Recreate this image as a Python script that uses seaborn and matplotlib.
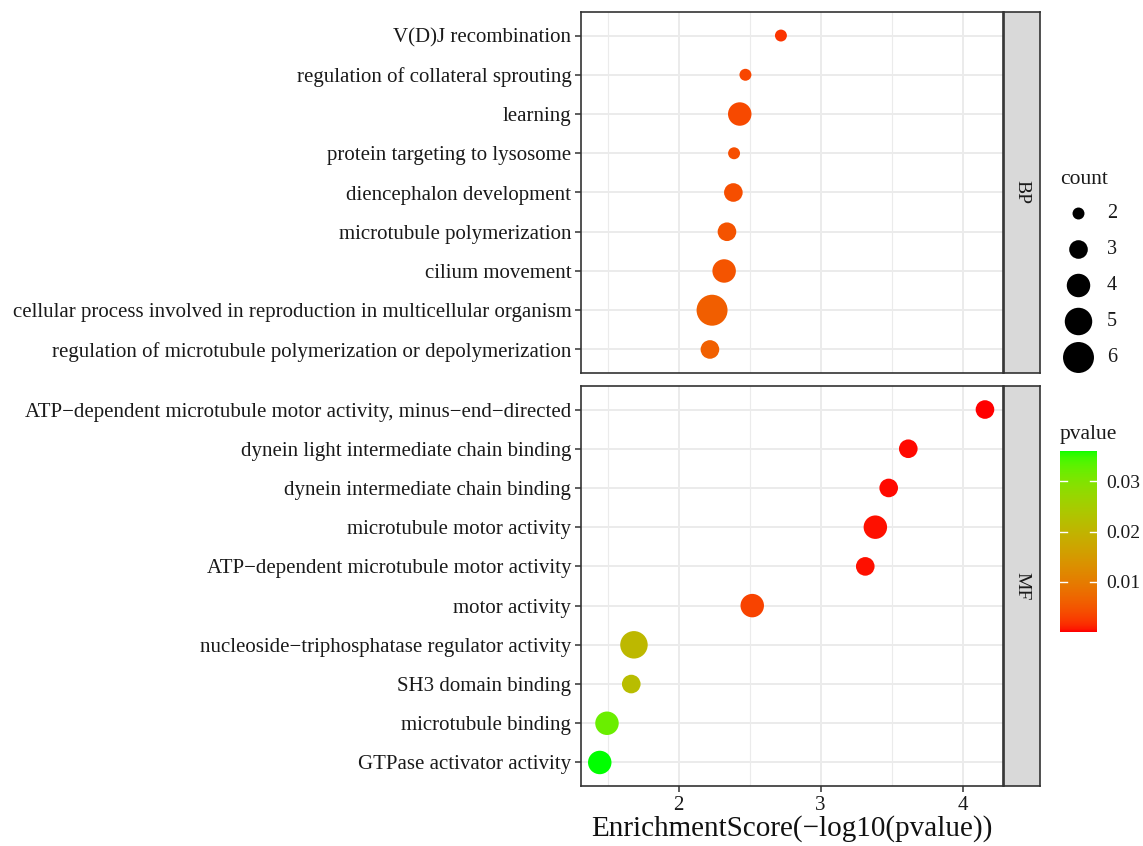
import numpy as np
import pandas as pd
import seaborn as sns
import matplotlib.pyplot as plt
from matplotlib.colors import ListedColormap, Normalize
from matplotlib.lines import Line2D

bp_terms = ['V(D)J recombination', 'regulation of collateral sprouting', 'learning',
            'protein targeting to lysosome', 'diencephalon development',
            'microtubule polymerization', 'cilium movement',
            'cellular process involved in reproduction in multicellular organism',
            'regulation of microtubule polymerization or depolymerization']
bp_score = [2.72, 2.47, 2.43, 2.39, 2.385, 2.34, 2.32, 2.235, 2.22]
bp_count = [2, 2, 4, 2, 3, 3, 4, 6, 3]

mf_terms = ['ATP\u2212dependent microtubule motor activity, minus\u2212end\u2212directed',
            'dynein light intermediate chain binding', 'dynein intermediate chain binding',
            'microtubule motor activity', 'ATP\u2212dependent microtubule motor activity',
            'motor activity', 'nucleoside\u2212triphosphatase regulator activity',
            'SH3 domain binding', 'microtubule binding', 'GTPase activator activity']
mf_score = [4.157, 3.617, 3.479, 3.385, 3.314, 2.518, 1.685, 1.666, 1.495, 1.444]
mf_count = [3, 3, 3, 4, 3, 4, 5, 3, 4, 4]

count_levels = [2, 3, 4, 5, 6]
pval_ticks = [0.01, 0.02, 0.03]


# red -> green gradient interpolated in Lab, like ggplot's scale_colour_gradient
def srgb_to_lab(rgb):
    c = np.asarray(rgb, float)
    lin = np.where(c <= 0.04045, c / 12.92, ((c + 0.055) / 1.055) ** 2.4)
    m = np.array([[0.4124, 0.3576, 0.1805], [0.2126, 0.7152, 0.0722], [0.0193, 0.1192, 0.9505]])
    xyz = m @ lin / np.array([0.95047, 1.0, 1.08883])
    f = np.where(xyz > 0.008856, np.cbrt(xyz), 7.787 * xyz + 16 / 116)
    return np.array([116 * f[1] - 16, 500 * (f[0] - f[1]), 200 * (f[1] - f[2])])


def lab_to_srgb(lab):
    L, a, b = lab
    fy = (L + 16) / 116
    f = np.array([fy + a / 500, fy, fy - b / 200])
    xyz = np.where(f ** 3 > 0.008856, f ** 3, (f - 16 / 116) / 7.787) * np.array([0.95047, 1.0, 1.08883])
    m = np.array([[3.2406, -1.5372, -0.4986], [-0.9689, 1.8758, 0.0415], [0.0557, -0.2040, 1.0570]])
    lin = np.clip(m @ xyz, 0, 1)
    return np.where(lin <= 0.0031308, 12.92 * lin, 1.055 * lin ** (1 / 2.4) - 0.055)


lab_lo = srgb_to_lab([1, 0, 0])
lab_hi = srgb_to_lab([0, 1, 0])
cmap = ListedColormap([np.clip(lab_to_srgb(lab_lo + t * (lab_hi - lab_lo)), 0, 1)
                       for t in np.linspace(0, 1, 256)])

bp = pd.DataFrame({'term': bp_terms, 'score': bp_score, 'count': bp_count})
mf = pd.DataFrame({'term': mf_terms, 'score': mf_score, 'count': mf_count})
for d in (bp, mf):
    d['pvalue'] = 10 ** (-d['score'])
    d['pos'] = np.arange(len(d))

pmin = min(bp['pvalue'].min(), mf['pvalue'].min())
pmax = max(bp['pvalue'].max(), mf['pvalue'].max())
norm = Normalize(pmin, pmax)

plt.rcParams['font.family'] = ['Liberation Serif', 'DejaVu Serif']
W, H = 1143, 846
fig = plt.figure(figsize=(W / 100, H / 100), dpi=100)
txt = '#1a1a1a'


def px_axes(x0, y0, x1, y1):
    return fig.add_axes([x0 / W, 1 - y1 / H, (x1 - x0) / W, (y1 - y0) / H])


panels = [(bp, 'BP', 12, 373), (mf, 'MF', 386, 786)]
size_range = (74, 497)
for d, name, top, bot in panels:
    ax = px_axes(581, top, 1003, bot)
    sns.scatterplot(data=d, x='score', y='pos', hue='pvalue', palette=cmap, hue_norm=norm,
                    size='count', sizes=size_range, size_norm=(2, 6), linewidth=0,
                    legend=False, ax=ax, zorder=3)
    n = len(d)
    ax.set_ylim(n - 1 + 0.6, -0.6)
    ax.set_xlim(1.312, 4.284)
    ax.set_yticks(d['pos'])
    ax.set_yticklabels(d['term'], fontsize=15, color=txt)
    ax.set_xticks([2, 3, 4])
    ax.set_xticks([1.5, 2.5, 3.5], minor=True)
    ax.grid(True, which='major', color='#EBEBEB', lw=1.4, zorder=0)
    ax.grid(True, which='minor', axis='x', color='#EBEBEB', lw=0.8, zorder=0)
    ax.tick_params(axis='both', which='major', length=4, width=1.1, color='#333333', pad=3)
    ax.tick_params(axis='x', which='minor', length=0)
    ax.set_axisbelow(True)
    ax.set_xlabel('')
    ax.set_ylabel('')
    for s in ax.spines.values():
        s.set_color('#333333')
        s.set_linewidth(1.2)
    if name == 'BP':
        ax.tick_params(axis='x', labelbottom=False, length=0)
    else:
        ax.set_xticklabels(['2', '3', '4'], fontsize=15, color=txt)
        ax.set_xlabel('EnrichmentScore(\u2212log10(pvalue))', fontsize=21, color='#111111', labelpad=0)
    # facet strip
    sax = px_axes(1004, top, 1040, bot)
    sax.set_facecolor('#D9D9D9')
    sax.set_xticks([])
    sax.set_yticks([])
    for s in sax.spines.values():
        s.set_color('#333333')
        s.set_linewidth(1.2)
    sax.text(0.5, 0.5, name, rotation=-90, ha='center', va='center', fontsize=14,
             color=txt, transform=sax.transAxes)

# size legend
fig.text(1060 / W, 1 - 179 / H, 'count', fontsize=15.5, ha='left', va='center', color=txt)
smin, smax = size_range
for i, c in enumerate(count_levels):
    s = smin + (smax - smin) * (c - 2) / 4
    y = 1 - (213 + 36 * i) / H
    fig.add_artist(Line2D([1078 / W], [y], marker='o', markersize=np.sqrt(s), color='black',
                          markeredgewidth=0, linestyle='none', transform=fig.transFigure))
    fig.text(1107 / W, y, str(c), fontsize=14.5, ha='left', va='center', color=txt)

# colour bar
fig.text(1060 / W, 1 - 434 / H, 'pvalue', fontsize=15.5, ha='left', va='center', color=txt)
cax = px_axes(1060, 451, 1097, 632)
grad = np.linspace(pmin, pmax, 300).reshape(-1, 1)
cax.imshow(grad, aspect='auto', cmap=cmap, norm=norm, origin='lower',
           extent=[0, 1, pmin, pmax])
cax.set_xlim(0, 1)
cax.set_ylim(pmin, pmax)
cax.set_xticks([])
cax.yaxis.tick_right()
cax.set_yticks(pval_ticks)
cax.set_yticklabels(['0.01', '0.02', '0.03'], fontsize=14, color=txt)
cax.tick_params(axis='y', direction='in', length=0, pad=7)
for t in pval_ticks:
    cax.plot([0, 0.2], [t, t], color='white', lw=1)
    cax.plot([0.8, 1], [t, t], color='white', lw=1)
for s in cax.spines.values():
    s.set_visible(False)

fig.savefig('out.png', dpi=100)
